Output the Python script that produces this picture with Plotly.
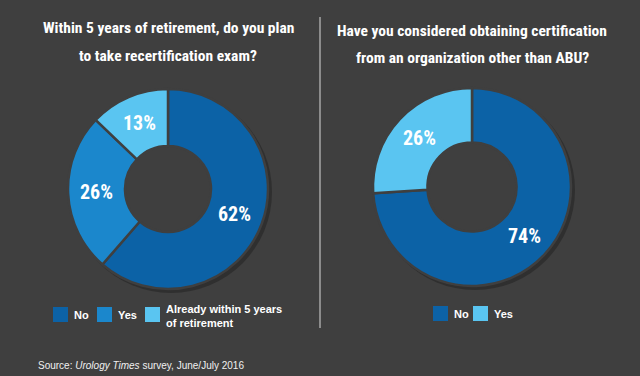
import math
import plotly.graph_objects as go

W, H = 640, 376
BG = "#3f3f3f"

# Data
left_title = ["Within 5 years of retirement, do you plan", "to take recertification exam?"]
left_labels = ["No", "Yes", "Already within 5 years of retirement"]
left_values = [62, 26, 13]
left_colors = ["#0c62a6", "#1b87cc", "#5ac5f1"]

right_title = ["Have you considered obtaining certification", "from an organization other than ABU?"]
right_labels = ["No", "Yes"]
right_values = [74, 26]
right_colors = ["#0c62a6", "#5ac5f1"]

legend_left_text = ["No", "Yes", "Already within 5 years<br>of retirement"]
legend_right_text = ["No", "Yes"]

source_text = "Source: <i>Urology Times</i> survey, June/July 2016"

COND = "Roboto Condensed, DejaVu Sans Condensed, Roboto, sans-serif"
SANS = "Liberation Sans, Arial, sans-serif"

def px(x):
    return x / W

def py(y):
    return 1 - y / H

fig = go.Figure()
shapes = []
ann = []

def add_donut(values, labels, colors, cx, cy, r, hole):
    shapes.append(dict(type="circle", xref="paper", yref="paper", layer="below",
                       x0=px(cx - r + 2), x1=px(cx + r + 4), y0=py(cy + r + 4), y1=py(cy - r + 2),
                       fillcolor="rgba(35,35,35,0.55)", line=dict(width=0)))
    rh = r * hole
    shapes.append(dict(type="circle", xref="paper", yref="paper", layer="below",
                       x0=px(cx - rh), x1=px(cx + rh), y0=py(cy + rh), y1=py(cy - rh),
                       fillcolor=BG, line=dict(width=0)))
    fig.add_trace(go.Pie(
        values=values, labels=labels, sort=False, direction="clockwise", rotation=0,
        hole=hole,
        marker=dict(colors=colors, line=dict(color=BG, width=2.5)),
        textinfo="none",
        domain=dict(x=[px(cx - r), px(cx + r)], y=[py(cy + r), py(cy - r)]),
        showlegend=False, hoverinfo="label+value",
    ))
    # percentage labels at the middle of each slice, mid-ring
    total = float(sum(values))
    cum = 0.0
    rm = r * (1 + hole) / 2
    for v in values:
        mid = (cum + v / 2) / total * 2 * math.pi
        cum += v
        x = cx + rm * math.sin(mid)
        y = cy - rm * math.cos(mid)
        ann.append(dict(text="<b>%d%%</b>" % v, x=px(x), y=py(y), xanchor="center", yanchor="middle",
                        showarrow=False, xref="paper", yref="paper",
                        font=dict(family=COND, size=20, color="white")))

add_donut(left_values, left_labels, left_colors, 168, 189, 100, 0.43)
add_donut(right_values, right_labels, right_colors, 472, 187, 99, 0.45)

for lines, cx, ys in [(left_title, 168, [28, 56]), (right_title, 472, [31, 58])]:
    for t, y in zip(lines, ys):
        ann.append(dict(text="<b>" + t + "</b>", x=px(cx), y=py(y), xanchor="center", yanchor="middle",
                        font=dict(family=COND, size=15.5, color="white"), showarrow=False,
                        xref="paper", yref="paper"))

# divider
shapes.append(dict(type="line", xref="paper", yref="paper", x0=px(320), x1=px(320), y0=py(17), y1=py(328),
                   line=dict(color="#8c8c8c", width=2)))

def legend(items, colors, xs, y0):
    for (xsq, txt), c in zip(zip(xs, items), colors):
        shapes.append(dict(type="rect", xref="paper", yref="paper", x0=px(xsq), x1=px(xsq + 15),
                           y0=py(y0 + 15), y1=py(y0), fillcolor=c, line=dict(width=0)))
        ann.append(dict(text="<b>" + txt + "</b>", x=px(xsq + 19),
                        y=py(y0 + 7.5) if "<br>" not in txt else py(y0 + 9),
                        xanchor="left", yanchor="middle", align="left", showarrow=False,
                        xref="paper", yref="paper",
                        font=dict(family=SANS, size=11, color="white")))

legend(legend_left_text, left_colors, [53, 97, 145], 307)
legend(legend_right_text, right_colors, [433, 473], 306)

ann.append(dict(text=source_text, x=px(36), y=py(365), xanchor="left", yanchor="middle", showarrow=False,
                xref="paper", yref="paper", font=dict(family=SANS, size=10, color="#f0f0f0")))

fig.update_layout(
    width=W, height=H, paper_bgcolor=BG, plot_bgcolor=BG,
    margin=dict(l=0, r=0, t=0, b=0),
    annotations=ann, shapes=shapes, showlegend=False,
)

fig.write_html("out.html", config={"displayModeBar": False},
               post_script="document.body.style.margin='0';document.body.style.background='%s';" % BG)
